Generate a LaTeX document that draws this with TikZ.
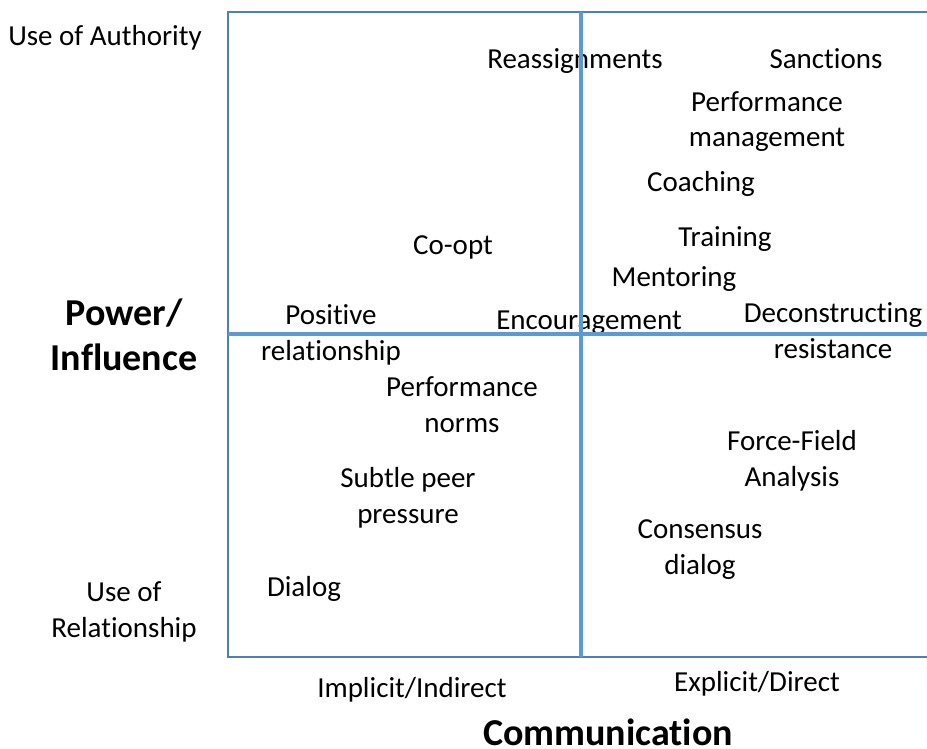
\documentclass[tikz,border=0pt]{standalone}
\usepackage{fontspec}
\setmainfont[Ligatures=NoCommon]{Carlito}
\begin{document}
\begin{tikzpicture}[x=1pt,y=-1pt,
  lbl/.style={anchor=base,align=center,inner sep=0pt,font=\fontsize{29}{35.4}\selectfont},
  axis/.style={anchor=base,align=center,inner sep=0pt,font=\fontsize{38}{45}\selectfont\bfseries},
  frame/.style={draw=frameblue,line width=1.6pt},
  divider/.style={draw=divblue,line width=3.2pt}]
\definecolor{frameblue}{HTML}{4F7FB8}
\definecolor{divblue}{HTML}{5B9BD5}
\useasboundingbox (0,0) rectangle (927,749);

% axis captions (two-line nodes sit on the baseline of their last line)
\node[lbl] (auth) at (105,46) {Use of Authority};
\node[lbl] (rel) at (124,637) {Use of\\Relationship};
\node[axis] (power) at (124,370) {Power/\\Influence};
\node[lbl] (impl) at (412,697) {Implicit/Indirect};
\node[lbl] (expl) at (757,691) {Explicit/Direct};
\node[axis] (comm) at (608,745) {Communication};

% items in the quadrants
\node[lbl] (reassign) at (575,69) {Reassignments};
\node[lbl] (sanct) at (826,69) {Sanctions};
\node[lbl] (perfman) at (767,147) {Performance\\management};
\node[lbl] (coach) at (701,192) {Coaching};
\node[lbl] (coopt) at (453,254) {Co-opt};
\node[lbl] (train) at (725,247) {Training};
\node[lbl] (mentor) at (674,286) {Mentoring};
\node[lbl] (posrel) at (331,360) {Positive\\relationship};
\node[lbl] (encour) at (589,329) {Encouragement};
\node[lbl] (decon) at (833,358) {Deconstructing\\resistance};
\node[lbl] (perfnorm) at (462,432) {Performance\\norms};
\node[lbl] (force) at (792,486) {Force-Field\\Analysis};
\node[lbl] (subtle) at (408,523) {Subtle peer\\pressure};
\node[lbl] (consens) at (700,574) {Consensus\\dialog};
\node[lbl] (dialog) at (304,596) {Dialog};

% quadrant frame, open to the right
\draw[frame] (940,12) -- (228,12) -- (228,657) -- (940,657);
% dividers
\draw[divider] (581,12) -- (581,657);
\draw[divider] (228,334) -- (940,334);
\end{tikzpicture}
\end{document}
